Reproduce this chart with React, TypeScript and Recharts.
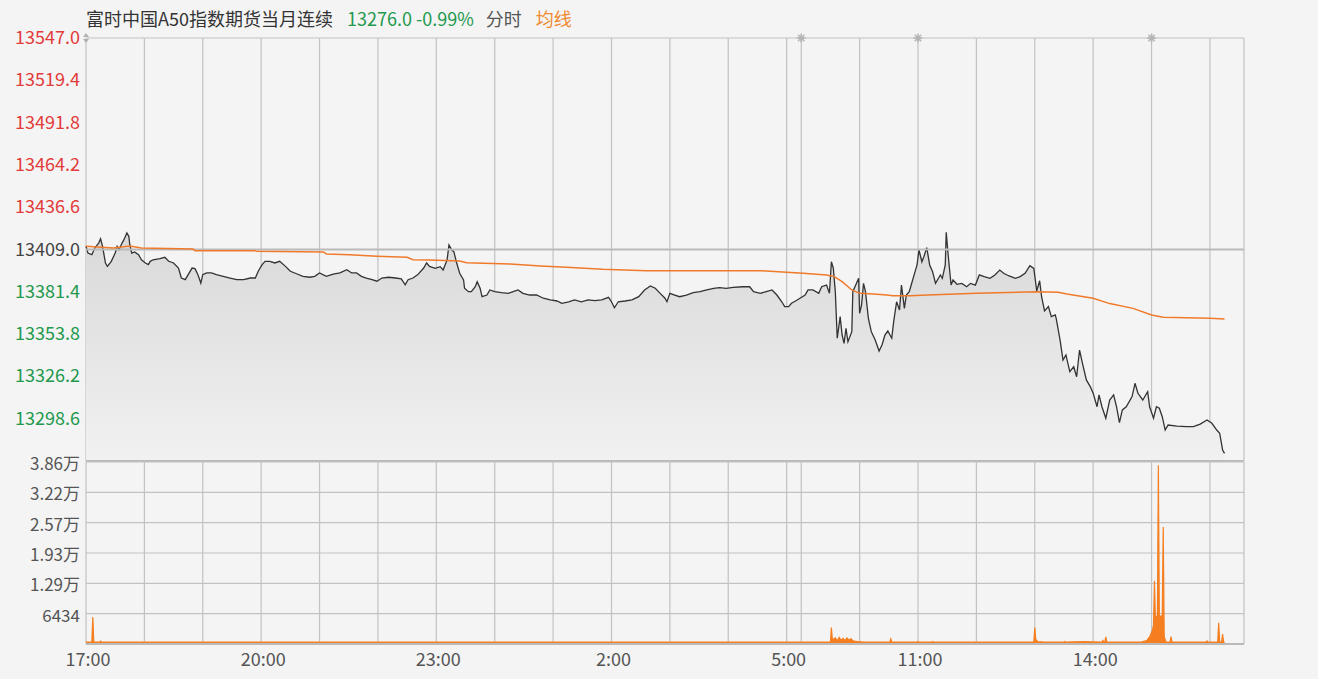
import React from "react";
import {
  ComposedChart,
  Area,
  Line,
  XAxis,
  YAxis,
  CartesianGrid,
  ReferenceLine,
  ReferenceDot,
} from "recharts";

// time axis: minutes of trading from 17:00 (night 17:00-5:15, then day from 9:00)
const hourTicks = [0, 60, 120, 180, 240, 300, 360, 420, 480, 540, 600, 660, 720, 735, 795, 855, 915, 975, 1035, 1095, 1155, 1190];
const labelTicks = [0, 180, 360, 540, 720, 855, 1035];
const labelTexts = ["17:00", "20:00", "23:00", "2:00", "5:00", "11:00", "14:00"];
const markerTicks = [735, 855, 1095];

const prevClose = 13409.0;
const priceTicks = [13271.0, 13298.6, 13326.2, 13353.8, 13381.4, 13409.0, 13436.6, 13464.2, 13491.8, 13519.4, 13547.0];
const priceLabels = ["", "13298.6", "13326.2", "13353.8", "13381.4", "13409.0", "13436.6", "13464.2", "13491.8", "13519.4", "13547.0"];
const pctLabels = ["", "0.82%", "0.62%", "0.41%", "0.21%", "0.00%", "0.21%", "0.41%", "0.62%", "0.82%", "1.03%"];

const volTicks = [0, 6434, 12868, 19302, 25736, 32170, 38604];
const volLabels = ["", "6434", "1.29万", "1.93万", "2.57万", "3.22万", "3.86万"];

// [minute, price]
const priceNight: [number, number][] = [
  [0, 13411.1], [2, 13406.7], [6, 13405.6], [9, 13410.0], [13, 13413.2], [15, 13416.0], [17, 13411.1],
  [20, 13400.2], [22, 13398.0], [26, 13401.3], [30, 13406.7], [32, 13411.1], [34, 13408.9], [37, 13413.2],
  [39, 13415.4], [42, 13419.8], [44, 13417.6], [45, 13412.1], [47, 13406.7], [50, 13407.4], [54, 13405.6],
  [57, 13402.3], [61, 13400.2], [64, 13399.1], [66, 13401.3], [69, 13402.3], [76, 13403.0], [81, 13403.9],
  [85, 13401.3], [90, 13400.2], [95, 13396.9], [98, 13390.4], [102, 13389.3], [105, 13392.6], [109, 13396.9],
  [112, 13396.5], [115, 13392.6], [118, 13387.1], [120, 13392.6], [124, 13393.7], [129, 13393.7], [134, 13392.6],
  [141, 13391.5], [148, 13390.4], [155, 13389.3], [162, 13389.3], [169, 13390.4], [174, 13390.4], [177, 13394.8],
  [181, 13399.1], [184, 13401.3], [189, 13401.3], [194, 13400.2], [199, 13401.3], [205, 13398.0], [210, 13394.8],
  [217, 13393.0], [223, 13391.5], [230, 13390.9], [235, 13391.5], [240, 13393.7], [247, 13391.5], [254, 13393.0],
  [261, 13393.7], [268, 13395.8], [273, 13393.7], [278, 13393.7], [283, 13391.5], [288, 13390.4], [294, 13389.3],
  [299, 13388.3], [304, 13390.4], [311, 13390.9], [318, 13390.4], [324, 13389.9], [328, 13386.0], [331, 13389.3],
  [336, 13390.4], [341, 13392.6], [347, 13396.9], [350, 13400.2], [353, 13398.0], [359, 13396.7], [364, 13397.8],
  [367, 13395.6], [371, 13402.1], [373, 13411.9], [376, 13408.7], [378, 13407.6], [381, 13400.0], [384, 13393.5],
  [388, 13389.1], [389, 13383.7], [393, 13381.5], [396, 13381.5], [400, 13384.7], [402, 13388.0], [405, 13383.7],
  [407, 13378.2], [412, 13379.3], [415, 13382.6], [420, 13381.5], [427, 13380.8], [434, 13380.4], [439, 13381.5],
  [444, 13382.6], [449, 13380.4], [456, 13379.3], [463, 13379.3], [470, 13377.2], [477, 13376.1], [484, 13375.4],
  [489, 13373.9], [496, 13374.9], [502, 13376.1], [509, 13374.9], [516, 13376.1], [523, 13375.6], [530, 13376.1],
  [537, 13377.8], [540, 13374.9], [543, 13371.0], [547, 13374.9], [554, 13375.4], [561, 13376.1], [568, 13378.2],
  [574, 13382.6], [580, 13385.2], [585, 13383.7], [590, 13380.4], [595, 13377.2], [597, 13374.9], [600, 13380.4],
  [605, 13379.3], [610, 13378.2], [617, 13379.3], [624, 13380.8], [631, 13381.5], [638, 13382.6], [645, 13383.7],
  [651, 13384.1], [658, 13383.7], [665, 13384.3], [675, 13384.7], [682, 13384.7], [686, 13381.5], [693, 13380.4],
  [699, 13381.5], [705, 13382.6], [710, 13379.3], [715, 13374.9], [718, 13371.7], [722, 13371.7], [725, 13373.9],
  [730, 13375.7],
];

const priceDay: [number, number][] = [
  [735, 13377.7], [739, 13379.3], [741, 13381.5], [742, 13382.6], [747, 13382.6], [753, 13380.4], [756, 13384.7],
  [761, 13385.8], [764, 13380.4], [766, 13401.0], [768, 13396.7], [770, 13381.5], [772, 13351.1], [775, 13365.2],
  [777, 13353.2], [779, 13347.8], [781, 13357.6], [783, 13348.8], [787, 13355.4], [788, 13381.5], [791, 13385.8],
  [794, 13390.2], [795, 13367.4], [797, 13372.8], [799, 13386.9], [801, 13381.5], [804, 13364.1], [807, 13355.4],
  [811, 13349.9], [815, 13342.8], [818, 13346.7], [821, 13353.2], [824, 13355.8], [828, 13351.1], [830, 13361.9],
  [833, 13374.9], [836, 13369.5], [838, 13385.8], [841, 13370.6], [843, 13379.3], [846, 13381.5], [848, 13385.8],
  [851, 13392.4], [854, 13398.9], [856, 13408.7], [859, 13401.0], [861, 13404.3], [864, 13410.2], [867, 13398.9],
  [870, 13394.5], [873, 13386.9], [878, 13392.4], [880, 13390.2], [883, 13398.9], [884, 13420.2], [886, 13405.4],
  [889, 13385.8], [891, 13389.1], [895, 13386.3], [900, 13386.9], [905, 13384.7], [909, 13386.9], [914, 13385.8],
  [918, 13392.4], [923, 13391.3], [929, 13390.2], [934, 13392.4], [939, 13395.6], [943, 13393.5], [948, 13391.9],
  [955, 13390.2], [960, 13391.3], [965, 13393.5], [970, 13398.4], [974, 13396.7], [977, 13381.9], [980, 13388.6],
  [982, 13378.2], [985, 13368.9], [989, 13371.7], [992, 13365.2], [996, 13366.3], [997, 13364.1], [1001, 13349.9],
  [1004, 13336.9], [1007, 13340.2], [1011, 13329.3], [1015, 13332.5], [1018, 13326.0], [1021, 13343.4], [1024, 13334.7],
  [1028, 13323.9], [1032, 13319.5], [1035, 13315.2], [1039, 13306.4], [1041, 13314.1], [1044, 13306.4], [1048, 13298.9],
  [1052, 13310.8], [1056, 13314.1], [1059, 13306.4], [1062, 13296.0], [1065, 13304.3], [1069, 13306.4], [1075, 13313.0],
  [1078, 13321.7], [1081, 13315.2], [1086, 13310.8], [1091, 13316.2], [1093, 13306.4], [1097, 13298.9], [1100, 13306.4],
  [1103, 13305.4], [1106, 13299.9], [1109, 13291.2], [1112, 13294.5], [1121, 13293.8], [1131, 13293.4], [1138, 13293.4],
  [1145, 13295.1], [1152, 13297.8], [1157, 13295.6], [1162, 13291.2], [1165, 13289.1], [1168, 13278.2], [1170, 13276.0],
];

const avgLine: [number, number][] = [
  [0, 13411.1], [28, 13410.0], [45, 13411.3], [57, 13410.0], [110, 13409.3], [112, 13408.2], [174, 13408.2],
  [175, 13407.8], [244, 13407.4], [247, 13406.1], [271, 13405.6], [299, 13404.6], [330, 13403.9], [336, 13402.3],
  [353, 13402.1], [384, 13401.5], [391, 13400.4], [436, 13399.5], [467, 13398.2], [494, 13397.4], [531, 13396.1],
  [576, 13395.2], [693, 13395.2], [716, 13394.3], [737, 13393.5], [761, 13392.4], [769, 13391.3], [777, 13388.0],
  [787, 13382.6], [795, 13380.4], [809, 13380.0], [823, 13379.3], [829, 13378.9], [847, 13378.9], [865, 13379.3],
  [915, 13380.4], [977, 13381.5], [999, 13381.1], [1008, 13380.0], [1035, 13377.2], [1052, 13373.7], [1076, 13370.6],
  [1095, 13366.3], [1107, 13364.8], [1155, 13364.1], [1170, 13363.7],
];

// [minute, contracts]
const volume: [number, number][] = [
  [0, 400], [6, 400], [7, 5700], [8, 400], [14, 400], [15, 600], [16, 400], [764, 400], [765, 400], [766, 3500],
  [767, 900], [770, 1300], [772, 700], [774, 1400], [776, 800], [778, 1200], [780, 700], [782, 1300], [784, 800],
  [786, 1100], [789, 600], [793, 500], [800, 400], [826, 400], [827, 1100], [828, 400], [854, 400], [855, 500],
  [856, 400], [869, 400], [870, 500], [871, 400], [974, 400], [975, 3500], [976, 1000], [978, 500], [985, 400],
  [1005, 400], [1006, 550], [1007, 400], [1025, 500], [1044, 400], [1045, 750], [1046, 400], [1047, 400],
  [1048, 1500], [1049, 400], [1085, 450], [1090, 700], [1093, 1500], [1096, 3000], [1097, 4000], [1098, 13400],
  [1099, 5000], [1100, 5800], [1101, 6000], [1102, 37900], [1103, 6000], [1104, 5800], [1105, 6000], [1106, 5800],
  [1107, 24800], [1108, 1500], [1110, 400], [1114, 400], [1115, 1550], [1116, 400], [1151, 400], [1152, 640],
  [1153, 400], [1163, 400], [1164, 4500], [1165, 400], [1167, 400], [1168, 2100], [1169, 400], [1170, 400],
];

const priceData = [...priceNight, ...priceDay].map(([t, v]) => ({ t, v }));
const avgData = avgLine.map(([t, v]) => ({ t, v }));
const volData = volume.map(([t, v]) => ({ t, v }));

const RED = "#e23b3b";
const GREEN = "#23994d";
const GRAY = "#444";
const FONT = "'Noto Sans CJK SC', 'Noto Sans', sans-serif";
const GRID = "#c2c2c2";

const tickColor = (v: number) =>
  Math.abs(v - prevClose) < 0.01 ? GRAY : v > prevClose ? RED : GREEN;

const tickIndex = (v: number) => priceTicks.findIndex((p) => Math.abs(p - v) < 0.01);

const LeftTick = (props: any) => {
  const { x, y, payload } = props;
  const v = payload.value;
  return (
    <text x={x} y={y} dy={6} textAnchor="end" fill={tickColor(v)} fontSize={18} fontFamily={FONT}>
      {priceLabels[tickIndex(v)]}
    </text>
  );
};

const RightTick = (props: any) => {
  const { x, y, payload } = props;
  const v = payload.value;
  return (
    <text x={x} y={y} dy={6} textAnchor="start" fill={tickColor(v)} fontSize={18} fontFamily={FONT}>
      {pctLabels[tickIndex(v)]}
    </text>
  );
};

const VolTick = (props: any) => {
  const { x, y, payload } = props;
  const i = volTicks.indexOf(payload.value);
  return (
    <text x={x} y={y} dy={8} textAnchor="end" fill="#555" fontSize={17} fontFamily={FONT}>
      {volLabels[i]}
    </text>
  );
};

const TimeTick = (props: any) => {
  const { x, y, payload } = props;
  const i = labelTicks.indexOf(payload.value);
  return (
    <text x={x + 2} y={y} dy={14} textAnchor="middle" fill="#555" fontSize={18} fontFamily={FONT}>
      {i >= 0 ? labelTexts[i] : ""}
    </text>
  );
};

const Star = (props: any) => {
  const { cx, cy } = props;
  const rays = [0, 45, 90, 135].map((a) => {
    const r = (a * Math.PI) / 180;
    return (
      <line
        key={a}
        x1={cx - Math.cos(r) * 4.5}
        y1={cy - Math.sin(r) * 4.5}
        x2={cx + Math.cos(r) * 4.5}
        y2={cy + Math.sin(r) * 4.5}
        stroke="#b5b5b5"
        strokeWidth={1.5}
      />
    );
  });
  return (
    <g>
      {rays}
      <circle cx={cx} cy={cy} r={2.5} fill="#b5b5b5" />
    </g>
  );
};

const Arrows = (props: any) => {
  const { cx, cy } = props;
  return (
    <g fill="#b0b0b0">
      <path d={`M${cx - 3},${cy - 1} L${cx + 3},${cy - 1} L${cx},${cy - 5} Z`} />
      <path d={`M${cx - 3},${cy + 1} L${cx + 3},${cy + 1} L${cx},${cy + 5} Z`} />
    </g>
  );
};

const App: React.FC = () => {
  return (
    <div
      style={{
        position: "absolute",
        left: 0,
        top: 0,
        width: 1318,
        height: 679,
        background: "#f4f4f4",
        fontFamily: FONT,
        overflow: "hidden",
      }}
    >
      <div
        style={{
          position: "absolute",
          left: 86,
          top: 6,
          fontSize: 18,
          lineHeight: "24px",
          whiteSpace: "nowrap",
          color: "#333",
        }}
      >
        <span>富时中国A50指数期货当月连续</span>
        <span style={{ color: GREEN, marginLeft: 14 }}>13276.0 -0.99%</span>
        <span style={{ color: "#555", marginLeft: 12 }}>分时</span>
        <span style={{ color: "#f08a30", marginLeft: 14 }}>均线</span>
      </div>

      <div style={{ position: "absolute", left: 0, top: 0 }}>
        <ComposedChart width={1318} height={470} margin={{ top: 38, right: 4, bottom: 9, left: 6 }}>
          <defs>
            <linearGradient id="priceFill" x1="0" y1="0" x2="0" y2="1">
              <stop offset="0%" stopColor="#d9d9d9" />
              <stop offset="100%" stopColor="#f1f1f1" />
            </linearGradient>
          </defs>
          <CartesianGrid stroke={GRID} strokeWidth={1.2} />
          <XAxis type="number" dataKey="t" domain={[0, 1190]} ticks={hourTicks} interval={0} hide />
          <YAxis
            yAxisId="p"
            domain={[13271, 13547]}
            ticks={priceTicks}
            interval={0}
            width={80}
            axisLine={false}
            tickLine={false}
            tickSize={4}
            tickMargin={2}
            tick={<LeftTick />}
          />
          <YAxis
            yAxisId="r"
            orientation="right"
            domain={[13271, 13547]}
            ticks={priceTicks}
            interval={0}
            width={70}
            axisLine={false}
            tickLine={false}
            tickSize={4}
            tickMargin={4}
            tick={<RightTick />}
          />
          <ReferenceLine yAxisId="p" y={prevClose} stroke="#bababa" strokeWidth={2} />
          <ReferenceLine yAxisId="p" y={13271} stroke="#bababa" strokeWidth={2} />
          <Area
            yAxisId="p"
            data={priceData}
            dataKey="v"
            type="linear"
            baseValue="dataMin"
            stroke="#333"
            strokeWidth={1.3}
            fill="url(#priceFill)"
            fillOpacity={1}
            dot={false}
            activeDot={false}
            isAnimationActive={false}
          />
          <Line
            yAxisId="p"
            data={avgData}
            dataKey="v"
            type="linear"
            stroke="#f07a2a"
            strokeWidth={1.5}
            dot={false}
            activeDot={false}
            isAnimationActive={false}
          />
          {markerTicks.map((t) => (
            <ReferenceDot key={t} yAxisId="p" x={t} y={13547} ifOverflow="visible" shape={<Star />} />
          ))}
          <ReferenceDot yAxisId="p" x={0} y={13547} ifOverflow="visible" shape={<Arrows />} />
        </ComposedChart>
      </div>

      <div style={{ position: "absolute", left: 0, top: 450 }}>
        <ComposedChart width={1318} height={229} margin={{ top: 12, right: 74, bottom: 5, left: 6 }}>
          <CartesianGrid stroke={GRID} strokeWidth={1.2} />
          <XAxis
            type="number"
            dataKey="t"
            domain={[0, 1190]}
            ticks={hourTicks}
            interval={0}
            height={30}
            axisLine={false}
            tickLine={false}
            tick={<TimeTick />}
          />
          <YAxis
            domain={[0, 38604]}
            ticks={volTicks}
            interval={0}
            width={80}
            axisLine={false}
            tickLine={false}
            tickSize={4}
            tickMargin={2}
            tick={<VolTick />}
          />
          <ReferenceLine y={0} stroke="#bababa" strokeWidth={2} />
          <Area
            data={volData}
            dataKey="v"
            type="linear"
            baseValue={0}
            stroke="#f57f20"
            strokeWidth={1.2}
            fill="#f57f20"
            fillOpacity={1}
            dot={false}
            activeDot={false}
            isAnimationActive={false}
          />
        </ComposedChart>
      </div>
    </div>
  );
};

export default App;
